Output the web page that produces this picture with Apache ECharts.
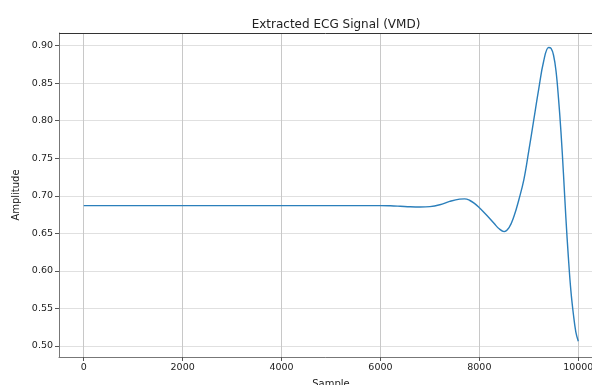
<!DOCTYPE html>
<html>
<head>
<meta charset="utf-8">
<script src="https://cdn.jsdelivr.net/npm/echarts@6/dist/echarts.min.js"></script>
<style>
  html, body { margin: 0; padding: 0; background: #fff; }
  #chart { width: 592px; height: 385px; }
</style>
</head>
<body>
<div id="chart"></div>
<script>
// Sample index of each reading and the extracted (VMD) ECG amplitude
const sampleIdx = [0, 1000, 2000, 3000, 4000, 5000, 5800, 6000, 6200, 6400, 6600, 6800,
  7000, 7200, 7400, 7600, 7700, 7800, 7900, 8000, 8100, 8200, 8300, 8400, 8500, 8600,
  8700, 8800, 8900, 9000, 9100, 9200, 9300, 9400, 9450, 9500, 9550, 9600, 9650, 9700,
  9750, 9800, 9850, 9900, 9950, 10000];
const amplitude = [0.6868, 0.6868, 0.6868, 0.6868, 0.6868, 0.6868, 0.6869, 0.6869, 0.6866,
  0.6860, 0.6853, 0.6850, 0.6855, 0.6880, 0.6925, 0.6955, 0.6958, 0.6940, 0.6898, 0.6840,
  0.6775, 0.6705, 0.6630, 0.6560, 0.6523, 0.6575, 0.6726, 0.6950, 0.7214, 0.7600, 0.8010,
  0.8420, 0.8790, 0.8973, 0.8960, 0.8870, 0.8660, 0.8300, 0.7850, 0.7300, 0.6700, 0.6180,
  0.5740, 0.5430, 0.5190, 0.5064];

// Tick positions shown on each axis
const xTicks = [0, 2000, 4000, 6000, 8000, 10000];
const yTicks = [0.50, 0.55, 0.60, 0.65, 0.70, 0.75, 0.80, 0.85, 0.90];

const titleText = 'Extracted ECG Signal (VMD)';
const xName = 'Sample';
const yName = 'Amplitude';

const font = 'DejaVu Sans';
const chart = echarts.init(document.getElementById('chart'), null, { renderer: 'canvas' });

const points = sampleIdx.map((s, i) => [s, amplitude[i]]);

chart.setOption({
  animation: false,
  backgroundColor: '#ffffff',
  title: {
    text: titleText,
    left: 331, top: 14, textAlign: 'center',
    textStyle: { fontFamily: font, fontSize: 12, fontWeight: 'normal', color: '#222' }
  },
  // the plotting area runs past the right edge of the canvas
  grid: { left: 59, top: 33, width: 544, height: 324, containLabel: false, outerBoundsMode: 'none' },
  xAxis: {
    type: 'value',
    min: -500, max: 10500,
    splitNumber: 5,
    name: xName,
    nameLocation: 'middle',
    nameGap: 22,
    nameTextStyle: { fontFamily: font, fontSize: 10, color: '#222' },
    axisLine: { show: true, onZero: false, lineStyle: { color: '#777', width: 1 } },
    axisTick: { show: true, length: 4, customValues: xTicks, lineStyle: { color: '#555' } },
    axisLabel: {
      customValues: xTicks, fontFamily: font, fontSize: 9.5, color: '#222', margin: 6,
      formatter: v => String(Math.round(v))
    },
    splitLine: { show: true, customValues: xTicks, lineStyle: { color: '#c8c8c8', width: 1 } }
  },
  yAxis: {
    type: 'value',
    min: 0.4854, max: 0.9166,
    name: yName,
    nameLocation: 'middle',
    nameGap: 33,
    nameTextStyle: { fontFamily: font, fontSize: 10, color: '#222' },
    axisLine: { show: true, onZero: false, lineStyle: { color: '#777', width: 1 } },
    axisTick: { show: true, length: 4, customValues: yTicks, lineStyle: { color: '#555' } },
    axisLabel: {
      customValues: yTicks, fontFamily: font, fontSize: 9.5, color: '#222', margin: 6,
      formatter: v => v.toFixed(2)
    },
    splitLine: { show: true, customValues: yTicks, lineStyle: { color: '#e0e0e0', width: 1 } }
  },
  series: [{
    type: 'line',
    data: points,
    showSymbol: false,
    smooth: 0.4,
    lineStyle: { color: '#2b7fbb', width: 1.4 },
    z: 5
  }],
  graphic: [{
    // top frame edge of the plotting area
    type: 'line',
    shape: { x1: 59, y1: 33.5, x2: 592, y2: 33.5 },
    style: { stroke: '#333', lineWidth: 1 },
    z: 10
  }]
});
</script>
</body>
</html>
